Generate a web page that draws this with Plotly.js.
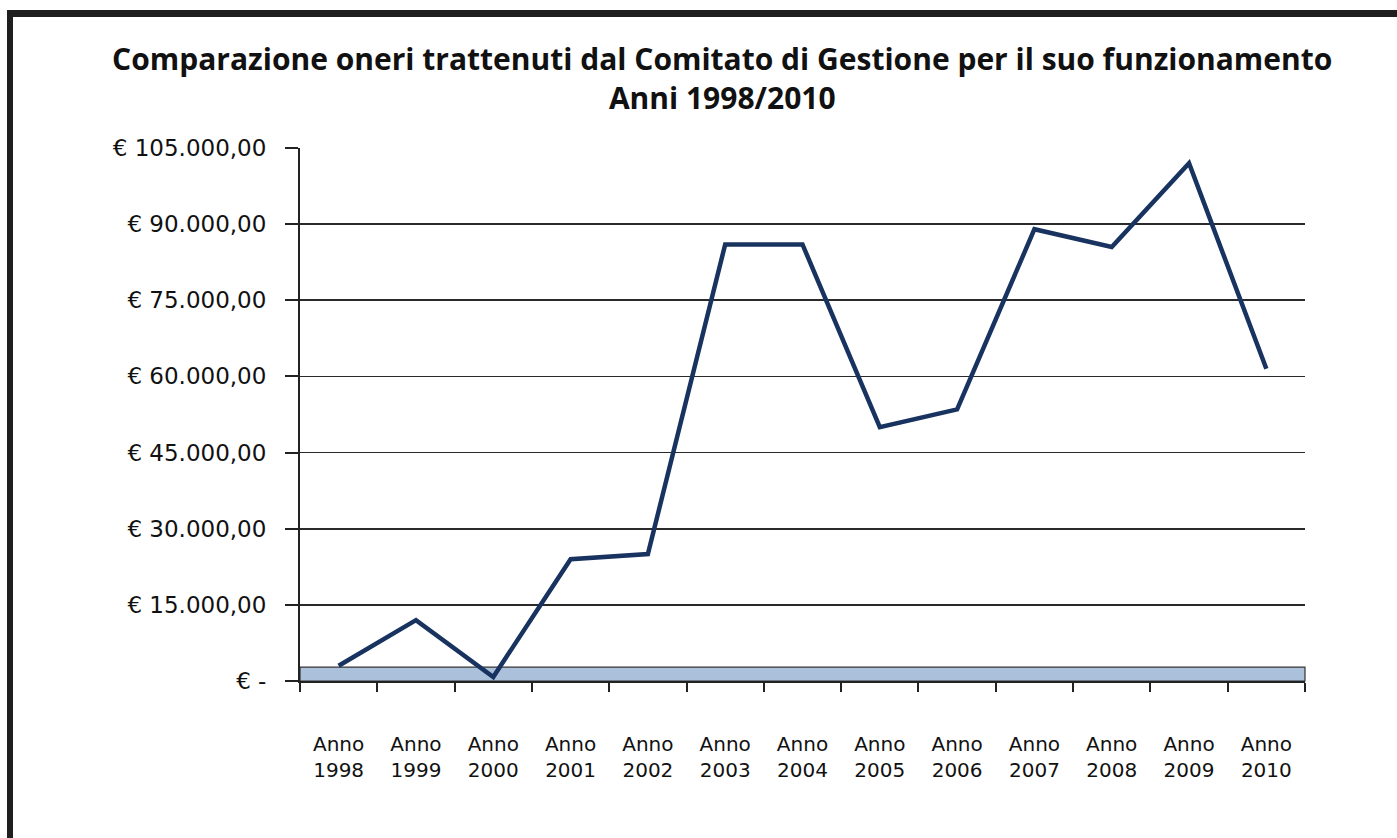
<!DOCTYPE html>
<html>
<head>
<meta charset="utf-8">
<script src="https://cdn.plot.ly/plotly-3.0.1.min.js"></script>
<style>
  html, body { margin: 0; padding: 0; background: #ffffff; overflow: hidden; }
  #chart { position: absolute; left: 0; top: 0; width: 1397px; height: 838px; }
  #frame { position: absolute; left: 7px; top: 10px; width: 1420px; height: 860px;
           border-top: 7px solid #1f1f1f; border-left: 6px solid #1f1f1f; pointer-events: none; }
</style>
</head>
<body>
<div id="chart"></div>
<div id="frame"></div>
<script>
// ---- data ----
const categories = ["Anno<br>1998", "Anno<br>1999", "Anno<br>2000", "Anno<br>2001", "Anno<br>2002",
                    "Anno<br>2003", "Anno<br>2004", "Anno<br>2005", "Anno<br>2006", "Anno<br>2007",
                    "Anno<br>2008", "Anno<br>2009", "Anno<br>2010"];
const oneri = [3000, 12000, 800, 24000, 25000, 86000, 86000, 50000, 53500, 89000, 85500, 102000, 61500];
const yTickVals = [0, 15000, 30000, 45000, 60000, 75000, 90000, 105000];
const yTickText = ["€ -", "€ 15.000,00", "€ 30.000,00", "€ 45.000,00", "€ 60.000,00",
                   "€ 75.000,00", "€ 90.000,00", "€ 105.000,00"];
const titleLines = ["Comparazione oneri trattenuti dal Comitato di Gestione per il suo funzionamento",
                    "Anni 1998/2010"];

const TITLE_FONT = "'Open Sans', Lato, 'DejaVu Sans', sans-serif";
const TICK_FONT = "'DejaVu Sans', 'Open Sans', sans-serif";

const trace = {
  type: "scatter",
  mode: "lines",
  x: categories,
  y: oneri,
  line: { color: "#18335f", width: 4.5 },
  hoverinfo: "x+y",
  showlegend: false
};

const layout = {
  width: 1397,
  height: 838,
  paper_bgcolor: "rgba(0,0,0,0)",
  plot_bgcolor: "rgba(0,0,0,0)",
  margin: { l: 300, r: 92, t: 148, b: 157 },
  font: { family: TICK_FONT, color: "#111111" },
  title: {
    text: "<b>" + titleLines[0] + "<br>" + titleLines[1] + "</b>",
    font: { family: TITLE_FONT, size: 30, color: "#111111" },
    x: 0.517, xanchor: "center",
    y: 0.916, yanchor: "top", yref: "container"
  },
  xaxis: {
    type: "category",
    range: [-0.5, 12.5],
    showgrid: false,
    zeroline: false,
    showline: true,
    linecolor: "#222222",
    linewidth: 2,
    ticks: "outside",
    tickson: "boundaries",
    ticklen: 9,
    tickwidth: 2,
    tickcolor: "#222222",
    ticklabelstandoff: 44,
    tickfont: { family: TICK_FONT, size: 20, color: "#111111" },
    fixedrange: true
  },
  yaxis: {
    range: [0, 105000],
    tickvals: yTickVals,
    ticktext: yTickText,
    showgrid: true,
    gridcolor: "#2a2a2a",
    gridwidth: 1.6,
    zeroline: false,
    showline: true,
    linecolor: "#222222",
    linewidth: 2,
    ticks: "outside",
    ticklen: 13,
    tickwidth: 2,
    tickcolor: "#222222",
    ticklabelstandoff: 14,
    tickfont: { family: TICK_FONT, size: 23, color: "#111111" },
    fixedrange: true
  },
  shapes: [
    { type: "rect", xref: "paper", yref: "paper", x0: 0, x1: 1, y0: 0, y1: 0.026,
      fillcolor: "#abc0da", line: { color: "#333333", width: 1.2 }, layer: "below" }
  ]
};

Plotly.newPlot("chart", [trace], layout, { displayModeBar: false, staticPlot: true });
</script>
</body>
</html>
